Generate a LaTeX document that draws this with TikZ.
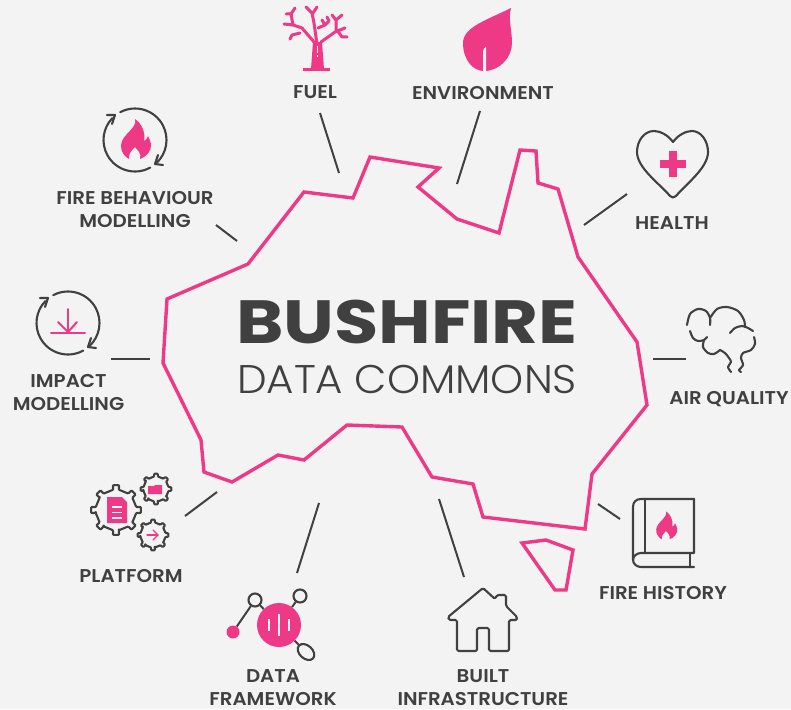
\documentclass[tikz,border=0pt]{standalone}
\usepackage{fontspec}
\setmainfont{Poppins}[BoldFont={Poppins SemiBold},BoldFeatures={FakeStretch=1.07}]
\newfontfamily\titlefont{Poppins Bold}[FakeStretch=1.18]
\newfontfamily\lightfont{Poppins Light}[FakeStretch=1.05]
\usetikzlibrary{shapes.geometric}
\definecolor{bgcolor}{RGB}{243,243,243}
\definecolor{firepink}{RGB}{238,58,134}
\definecolor{inkcolor}{RGB}{64,64,65}
\tikzset{
  flame/.pic = {
    \fill [firepink] (0,-21) .. controls (3,-12) and (-13,-6) .. (-14,5)
    .. controls (-14.5,12) and (-10,17) .. (-6,19)
    .. controls (-7,14) and (-3,10) .. (0,7)
    .. controls (2,10) and (7,13) .. (5,19)
    .. controls (11,17) and (17,11) .. (16,4)
    .. controls (15.5,1) and (14,-2) .. (13,-4)
    .. controls (12,-1) and (11,0) .. (9,1)
    .. controls (11,-8) and (6,-17) .. (0,-21) -- cycle;
  }
}
\tikzset{
  cyclearrows/.pic = {
    \draw [icon] (-118:31.5) arc (-118:47:31.5);
    \draw [icon] (61:31.5) arc (61:224:31.5);
    \draw [icon] (23,15) -- (20,24) -- (28,25);
    \draw [icon] (-28,-25) -- (-20,-25) -- (-23,-16);
  }
}
\tikzset{
  gear/.pic = {
    \draw [icon, rounded corners=0.8pt] (-8:0.82)
    \foreach \a in {0,45,...,315} {
      -- ({\a-8}:0.82) -- ({\a-7}:1) -- ({\a+7}:1) -- ({\a+8}:0.82)
      -- ({\a+37}:0.82)
    } -- cycle;
  }
}
\tikzset{
  %% label : the name of a data theme
  label/.style={
    font=\bfseries\fontsize{18.5}{23}\selectfont,
    text=inkcolor,
    align=center,
    inner sep=0pt
  },
  %% icon : dark line of an icon
  icon/.style={
    draw=inkcolor,
    line width=2.1pt,
    line cap=round,
    line join=round
  },
  %% pinkline : pink line of an icon
  pinkline/.style={
    draw=firepink,
    line width=2pt,
    line cap=round,
    line join=round
  },
  %% twig : branch of the tree
  twig/.style={
    pinkline,
    line width=3pt
  },
  %% gapline : line cut out of a pink shape
  gapline/.style={
    draw=bgcolor,
    line width=1.8pt
  },
  %% link : stub between the map and a theme
  link/.style={
    draw=inkcolor,
    line width=2pt
  },
  %% coast : outline of the map
  coast/.style={
    draw=firepink,
    line width=3.4pt,
    line join=miter
  },
  %% hub : small ring of the data framework icon
  hub/.style={
    circle,
    draw=inkcolor,
    line width=2.1pt,
    fill=bgcolor,
    minimum size=13pt,
    inner sep=0pt
  }
}
\begin{document}
\begin{tikzpicture}
  [x=1pt,
  y=-1pt]

  \useasboundingbox (0, 0) rectangle (791, 709);
  \fill [bgcolor] (0, 0) rectangle (791, 709);

  %% Map
  \draw [coast] (167,299) -- (248,264) -- (304,192) -- (353,198) -- (370,157)
  -- (439,168) -- (418,187) -- (457,219) -- (499,233) -- (520,150)
  -- (536,151) -- (538,183) -- (558,189) -- (578,257) -- (637,342)
  -- (647,405) -- (592,474) -- (585,529) -- (483,517) -- (473,484)
  -- (432,477) -- (402,427) -- (347,425) -- (304,460) -- (278,455)
  -- (232,482) -- (204,472) -- (201,440) -- (163,363) -- cycle;
  \draw [coast] (522,543) -- (546,540) -- (573,550) -- (566,590)
  -- (555,590) -- cycle;

  %% Title
  \node (title) [anchor=center, inner sep=0pt, text=inkcolor] at (407,322)
  {\titlefont\fontsize{61}{61}\selectfont BUSHFIRE};
  \node (subtitle) [anchor=center, inner sep=0pt, text=inkcolor] at (407,379)
  {\lightfont\fontsize{40}{40}\selectfont DATA COMMONS};

  %% Labels
  \node (fuel) [label] at (315,92) {FUEL};
  \node (environment) [label] at (483,93) {ENVIRONMENT};
  \node (health) [label] at (672,223) {HEALTH};
  \node (air quality) [label] at (729,399) {AIR QUALITY};
  \node (fire history) [label] at (663,593) {FIRE HISTORY};
  \node (built) [label] at (483,688) {BUILT\\INFRASTRUCTURE};
  \node (framework) [label] at (273,688) {DATA\\FRAMEWORK};
  \node (platform) [label] at (131,576) {PLATFORM};
  \node (impact) [label] at (68.5,393) {IMPACT\\MODELLING};
  \node (behaviour) [label] at (135,210) {FIRE BEHAVIOUR\\MODELLING};

  %% Connections
  \coordinate (fuel a) at (320,113);
  \coordinate (fuel b) at (339,173);
  \draw [link] (fuel a) -- (fuel b);
  \coordinate (environment a) at (480,111);
  \coordinate (environment b) at (457,184);
  \draw [link] (environment a) -- (environment b);
  \coordinate (health a) at (627,194);
  \coordinate (health b) at (584,225);
  \draw [link] (health a) -- (health b);
  \coordinate (air a) at (686,359);
  \coordinate (air b) at (653,359);
  \draw [link] (air a) -- (air b);
  \coordinate (history a) at (620,519);
  \coordinate (history b) at (598,504);
  \draw [link] (history a) -- (history b);
  \coordinate (built a) at (464,577);
  \coordinate (built b) at (439,499);
  \draw [link] (built a) -- (built b);
  \coordinate (framework a) at (297,573);
  \coordinate (framework b) at (319,503);
  \draw [link] (framework a) -- (framework b);
  \coordinate (platform a) at (185,516);
  \coordinate (platform b) at (217,492);
  \draw [link] (platform a) -- (platform b);
  \coordinate (impact a) at (111,359);
  \coordinate (impact b) at (150,359);
  \draw [link] (impact a) -- (impact b);
  \coordinate (behaviour a) at (216,225);
  \coordinate (behaviour b) at (237,241);
  \draw [link] (behaviour a) -- (behaviour b);

  %% Fuel icon
  \fill [firepink] (303,67.5) rectangle (330,70.5);
  \fill [firepink] (311,69) -- (324,69) -- (322,42) -- (313,42) -- cycle;
  \draw [twig] (317,44) -- (314,23) -- (312,13) -- (306,7);
  \draw [twig] (313,13) -- (317,7);
  \draw [twig] (314,42) -- (302,28) -- (293,25) -- (284,24);
  \draw [twig] (293,25) -- (291,14) -- (286,14);
  \draw [twig] (291,14) -- (295,8);
  \draw [twig] (300,33) -- (292,35) -- (290,39);
  \draw [twig] (321,42) -- (335,32) -- (345,28);
  \draw [twig] (336,30) -- (336,20) -- (342,15);
  \draw [twig] (336,20) -- (332,15);
  \draw [twig] (337,30) -- (342,37) -- (347,37);
  \draw [twig] (318,28) -- (325,25) -- (322,20);
  \draw [twig] (325,25) -- (329,21) -- (327,17);
  \draw [gapline, line width=1.4pt] (317.5,46) -- (317.5,53);
  \draw [gapline, line width=1.4pt] (317.5,55) -- (317.5,57);

  %% Environment icon
  \fill [firepink] (511,8) .. controls (487,20) and (463,27) .. (463,43)
  .. controls (463,60) and (473,71) .. (484,71)
  .. controls (500,71) and (512,57) .. (512,43)
  .. controls (512,30) and (508,20) .. (511,8) -- cycle;
  \fill [bgcolor] (483,72) -- (483,53) .. controls (483,49) and (485,47) .. (486,47)
  -- (486,72) -- cycle;

  %% Health icon
  \draw [icon] (673,142) .. controls (668,135) and (660,131) .. (654,131)
  .. controls (644,131) and (637,141) .. (637,152)
  .. controls (637,168) and (660,184) .. (670,196)
  .. controls (672,198) and (674,198) .. (676,196)
  .. controls (686,184) and (708,168) .. (708,152)
  .. controls (708,141) and (701,131) .. (692,131)
  .. controls (686,131) and (678,135) .. (673,142) -- cycle;
  \draw [firepink, line width=8pt] (660,164) -- (686,164);
  \draw [firepink, line width=8pt] (673,151) -- (673,177);

  %% Air quality icon
  \draw [icon] plot [smooth] coordinates {(687,325) (690,314) (698,309) (706,311) (710,318) (710,325)};
  \draw [icon] plot [smooth] coordinates {(710,318) (717,309) (727,307) (738,311) (744,320) (745,327)};
  \draw [icon] plot [smooth] coordinates {(730,333) (735,328) (742,326) (748,328) (753,331)};
  \draw [icon] plot [smooth] coordinates {(690,331) (693,338) (698,341) (704,340) (707,337)};
  \draw [icon] plot [smooth] coordinates {(704,340) (703,347) (708,353) (714,354) (720,350)};
  \draw [icon] plot [smooth] coordinates {(720,350) (725,353) (729,358) (731,362) (728,367) (731,372)};
  \draw [icon] plot [smooth] coordinates {(754,337) (755,344) (751,350) (743,353) (741,358) (743,365) (739,370) (741,372)};

  %% Fire history icon
  \draw [icon] (694,499) -- (641,499) .. controls (636,499) and (633,502) .. (633,507)
  -- (633,560) .. controls (633,564) and (637,567) .. (641,567) -- (694,567);
  \draw [icon] (633,560) .. controls (633,556) and (637,553) .. (641,553) -- (694,553) -- (694,499);
  \draw [icon] (645,499) -- (645,553);
  \draw [icon] (690,553) -- (690,567);
  \pic (history flame) [scale=0.7] at (666,526) {flame};

  %% Built infrastructure icon
  \draw [icon, rounded corners=1.5pt] (483,588) -- (448,617) -- (449,620) -- (457,620)
  -- (457,651) -- (477,651) -- (477,628) -- (489,628) -- (489,651) -- (509,651)
  -- (509,620) -- (517,620) -- (517,617) -- (506,606) -- (506,595) -- (497,595)
  -- (495,599) -- cycle;

  %% Data framework icon
  \node (fw centre) [circle, fill=firepink, minimum size=44pt, inner sep=0pt] at (279,625) {};
  \node (fw dot) [circle, fill=firepink, minimum size=13pt, inner sep=0pt] at (233,632) {};
  \node (fw left) [hub] at (255,600) {};
  \node (fw right) [hub] at (300,596) {};
  \node (fw oval) [ellipse, rotate=-42, draw=inkcolor, line width=2.1pt, minimum width=19pt,
    minimum height=13pt, inner sep=0pt] at (306,652) {};
  \draw [link] (fw dot) -- (fw left);
  \draw [link] (fw left) -- (fw centre);
  \draw [link] (fw right) -- (fw centre);
  \draw [link] (fw oval) -- (fw centre);
  \draw [gapline] (279,614) -- (279,636);
  \draw [gapline] (269,619) -- (269,631);
  \draw [gapline] (289,619) -- (289,631);

  %% Platform icon
  \pic (gear big) [scale=25] at (116,510) {gear};
  \pic (gear top) [scale=15.5] at (156,489) {gear};
  \pic (gear low) [scale=15.5] at (153,535) {gear};
  \fill [firepink] (107,497) -- (122,497) -- (127,502) -- (127,523) -- (107,523) -- cycle;
  \draw [gapline] (112,507) -- (122,507);
  \draw [gapline] (112,512.5) -- (122,512.5);
  \draw [gapline] (112,518) -- (122,518);
  \fill [firepink] (148,486) -- (154,486) -- (155,485) -- (162,485) -- (162,494) -- (148,494) -- cycle;
  \draw [pinkline, line width=1.2pt] (147,535) -- (158,535);
  \draw [pinkline, line width=1.2pt] (153,530) -- (158,535) -- (153,540);

  %% Impact modelling icon
  \pic (impact cycle) at (68,323) {cyclearrows};
  \draw [pinkline] (68,309) -- (68,332);
  \draw [pinkline] (58,322) -- (68,332) -- (77,322);
  \draw [pinkline] (51,333) -- (85,333);

  %% Fire behaviour icon
  \pic (behaviour cycle) at (135,140) {cyclearrows};
  \pic (behaviour flame) at (135,140) {flame};

\end{tikzpicture}
\end{document}
